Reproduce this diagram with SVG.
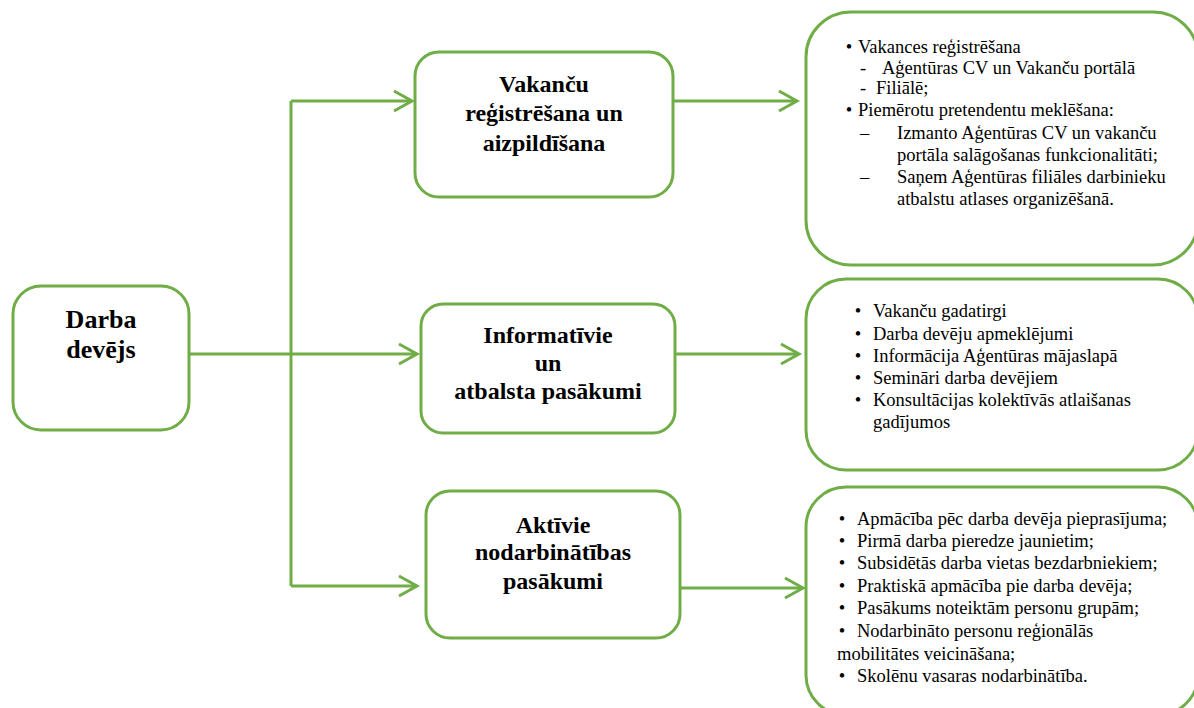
<svg xmlns="http://www.w3.org/2000/svg" width="1194" height="708" viewBox="0 0 1194 708">
<style>
.box{fill:#fff;stroke:#70AD47;stroke-width:3}
.con{fill:none;stroke:#70AD47;stroke-width:3}
text{font-family:'Liberation Serif','Times New Roman',Times,'Noto Serif','DejaVu Serif',serif;fill:#000}
.hd{font-weight:bold;font-size:24px;text-anchor:middle}
.hd2{font-weight:bold;font-size:26px;text-anchor:middle}
.tx{font-size:18.5px}
.bl{text-anchor:middle}
</style>
<defs>
<marker id="arr" markerUnits="userSpaceOnUse" markerWidth="24" markerHeight="26" refX="20" refY="12" orient="auto">
<path d="M2,2 L20,12 L2,22" fill="none" stroke="#70AD47" stroke-width="3"/>
</marker>
</defs>
<rect width="1194" height="708" fill="#fff"/>
<g id="connectors">
<path class="con" d="M189,354 H417" marker-end="url(#arr)"/>
<path class="con" d="M291,101 V586"/>
<path class="con" d="M291,101 H412" marker-end="url(#arr)"/>
<path class="con" d="M291,586 H417" marker-end="url(#arr)"/>
<path class="con" d="M673,101 H797" marker-end="url(#arr)"/>
<path class="con" d="M675,354 H799" marker-end="url(#arr)"/>
<path class="con" d="M680,588 H803" marker-end="url(#arr)"/>
</g>
<g id="darba-devejs">
<rect class="box" x="13" y="286" width="176" height="144" rx="28"/>
<text class="hd2" x="101" y="328">Darba</text>
<text class="hd2" x="101" y="358">devējs</text>
</g>
<g id="vakancu">
<rect class="box" x="415" y="52" width="258" height="145" rx="24"/>
<text class="hd" x="544" y="92">Vakanču</text>
<text class="hd" x="544" y="121">reģistrēšana un</text>
<text class="hd" x="544" y="151">aizpildīšana</text>
</g>
<g id="informativie">
<rect class="box" x="421" y="304" width="254" height="129" rx="22"/>
<text class="hd" x="548" y="343">Informatīvie</text>
<text class="hd" x="548" y="371">un</text>
<text class="hd" x="548" y="399">atbalsta pasākumi</text>
</g>
<g id="aktivie">
<rect class="box" x="426" y="491" width="254" height="147" rx="24"/>
<text class="hd" x="553" y="533">Aktīvie</text>
<text class="hd" x="553" y="560">nodarbinātības</text>
<text class="hd" x="553" y="589">pasākumi</text>
</g>
<g id="detail-vakancu">
<rect class="box" x="806" y="12" width="392" height="253" rx="45"/>
<text class="tx bl" x="849" y="53">•</text>
<text class="tx" x="858" y="53">Vakances reģistrēšana</text>
<text class="tx" x="860" y="74">-</text>
<text class="tx" x="882" y="74">Aģentūras CV un Vakanču portālā</text>
<text class="tx" x="860" y="94">-</text>
<text class="tx" x="876" y="94">Filiālē;</text>
<text class="tx bl" x="849" y="116">•</text>
<text class="tx" x="858" y="116">Piemērotu pretendentu meklēšana:</text>
<text class="tx" x="860" y="139">–</text>
<text class="tx" x="897" y="139">Izmanto Aģentūras CV un vakanču</text>
<text class="tx" x="897" y="161">portāla salāgošanas funkcionalitāti;</text>
<text class="tx" x="860" y="183">–</text>
<text class="tx" x="897" y="183">Saņem Aģentūras filiāles darbinieku</text>
<text class="tx" x="897" y="205">atbalstu atlases organizēšanā.</text>
</g>
<g id="detail-informativie">
<rect class="box" x="806" y="279" width="392" height="191" rx="40"/>
<text class="tx bl" x="858" y="317">•</text>
<text class="tx" x="873" y="317">Vakanču gadatirgi</text>
<text class="tx bl" x="858" y="340">•</text>
<text class="tx" x="873" y="340">Darba devēju apmeklējumi</text>
<text class="tx bl" x="858" y="362">•</text>
<text class="tx" x="873" y="362">Informācija Aģentūras mājaslapā</text>
<text class="tx bl" x="858" y="384">•</text>
<text class="tx" x="873" y="384">Semināri darba devējiem</text>
<text class="tx bl" x="858" y="406">•</text>
<text class="tx" x="873" y="406">Konsultācijas kolektīvās atlaišanas</text>
<text class="tx" x="873" y="428">gadījumos</text>
</g>
<g id="detail-aktivie">
<rect class="box" x="806" y="487" width="392" height="228" rx="40"/>
<text class="tx bl" x="842" y="525">•</text>
<text class="tx" x="857" y="525">Apmācība pēc darba devēja pieprasījuma;</text>
<text class="tx bl" x="842" y="547">•</text>
<text class="tx" x="857" y="547">Pirmā darba pieredze jaunietim;</text>
<text class="tx bl" x="842" y="569">•</text>
<text class="tx" x="857" y="569">Subsidētās darba vietas bezdarbniekiem;</text>
<text class="tx bl" x="842" y="592">•</text>
<text class="tx" x="857" y="592">Praktiskā apmācība pie darba devēja;</text>
<text class="tx bl" x="842" y="614">•</text>
<text class="tx" x="857" y="614">Pasākums noteiktām personu grupām;</text>
<text class="tx bl" x="842" y="637">•</text>
<text class="tx" x="857" y="637">Nodarbināto personu reģionālās</text>
<text class="tx" x="837" y="660">mobilitātes veicināšana;</text>
<text class="tx bl" x="842" y="682">•</text>
<text class="tx" x="857" y="682">Skolēnu vasaras nodarbinātība.</text>
</g>
</svg>
